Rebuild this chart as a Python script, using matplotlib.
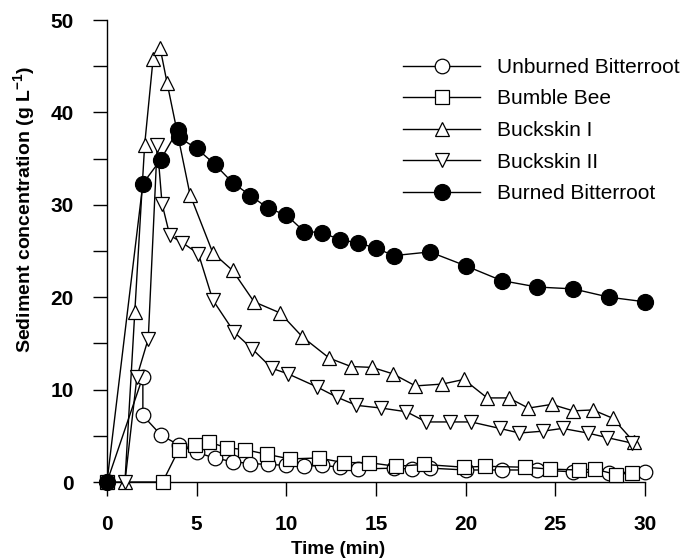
import matplotlib
matplotlib.use("Agg")
import matplotlib.pyplot as plt
from matplotlib.ticker import MultipleLocator

plt.rcParams['font.family'] = ['Liberation Sans', 'DejaVu Sans']
plt.rcParams['mathtext.fontset'] = 'custom'
plt.rcParams['mathtext.rm'] = 'Liberation Sans'
plt.rcParams['mathtext.bf'] = 'Liberation Sans:bold'

# ---- data ----
unburned_t = [0, 2.0, 2.0, 3.0, 4.0, 5.0, 6.0, 7.0, 8.0, 9.0, 10.0, 11.0, 12.0, 13.0, 14.0,
              16.0, 17.0, 18.0, 20.0, 22.0, 24.0, 26.0, 28.0, 30.0]
unburned_v = [0, 11.4, 7.2, 5.1, 4.0, 3.2, 2.6, 2.2, 2.0, 1.9, 1.8, 1.7, 1.8, 1.6, 1.4,
              1.5, 1.4, 1.5, 1.3, 1.3, 1.3, 1.1, 1.0, 1.1]

bumble_t = [0, 3.1, 4.0, 4.9, 5.7, 6.7, 7.7, 8.9, 10.2, 11.8, 13.2, 14.6, 16.1, 17.7,
            19.9, 21.1, 23.3, 24.7, 26.3, 27.2, 28.4, 29.3]
bumble_v = [0, 0, 3.5, 4.0, 4.3, 3.7, 3.5, 3.0, 2.5, 2.6, 2.1, 2.1, 1.7, 1.9,
            1.6, 1.7, 1.6, 1.4, 1.3, 1.4, 0.8, 1.0]

buck1_t = [1.0, 1.55, 2.1, 2.57, 2.96, 3.35, 4.63, 5.9, 7.0, 8.2, 9.65, 10.9, 12.4, 13.6,
           14.8, 15.95, 17.2, 18.7, 19.9, 21.2, 22.4, 23.5, 24.8, 26.0, 27.1, 28.2, 29.4]
buck1_v = [0, 18.4, 36.5, 45.8, 47.0, 43.2, 31.1, 24.8, 22.9, 19.5, 18.3, 15.7, 13.4, 12.5,
           12.4, 11.7, 10.4, 10.6, 11.1, 9.1, 9.1, 8.0, 8.4, 7.7, 7.8, 6.9, 4.3]

buck2_t = [1.0, 1.67, 2.3, 2.8, 3.07, 3.5, 4.2, 5.1, 5.9, 7.1, 8.1, 9.2, 10.1, 11.7, 12.8,
           13.9, 15.3, 16.7, 17.8, 19.1, 20.3, 21.9, 23.0, 24.3, 25.4, 26.8, 27.9, 29.3]
buck2_v = [0, 11.4, 15.5, 36.5, 30.1, 26.7, 25.9, 24.7, 19.7, 16.2, 14.4, 12.3, 11.7, 10.3, 9.2,
           8.3, 8.0, 7.6, 6.5, 6.5, 6.5, 5.8, 5.3, 5.5, 5.8, 5.3, 4.8, 4.2]

burned_t = [0, 2.0, 3.0, 3.95, 4.0, 5.0, 6.0, 7.0, 8.0, 9.0, 10.0, 11.0, 12.0, 13.0, 14.0,
            15.0, 16.0, 18.0, 20.0, 22.0, 24.0, 26.0, 28.0, 30.0]
burned_v = [0, 32.3, 34.9, 38.1, 37.3, 36.1, 34.4, 32.4, 31.0, 29.6, 28.9, 27.1, 27.0, 26.2, 25.9,
            25.3, 24.5, 24.9, 23.4, 21.8, 21.1, 20.9, 20.0, 19.5]

labels = ['Unburned Bitterroot', 'Bumble Bee', 'Buckskin I', 'Buckskin II', 'Burned Bitterroot']
x_ticks = [0, 5, 10, 15, 20, 25, 30]
y_ticks = [0, 10, 20, 30, 40, 50]

fig = plt.figure(figsize=(6.83, 5.6), dpi=100)
ax = fig.add_axes([107/683, 1 - 482/560, (645 - 107)/683, (482 - 20)/560])

lw = 1.0
common = dict(color='black', lw=lw, clip_on=False, markeredgecolor='black', markeredgewidth=0.9)
ax.plot(unburned_t, unburned_v, marker='o', ms=10.5, mfc='white', label=labels[0], zorder=3, **common)
ax.plot(bumble_t, bumble_v, marker='s', ms=9.5, mfc='white', label=labels[1], zorder=3, **common)
ax.plot(buck1_t, buck1_v, marker='^', ms=9.5, mfc='white', label=labels[2], zorder=4, **common)
ax.plot(buck2_t, buck2_v, marker='v', ms=9.5, mfc='white', label=labels[3], zorder=4, **common)
ax.plot(burned_t, burned_v, marker='o', ms=11.5, mfc='black', label=labels[4], zorder=5, **common)

ax.set_xlim(0, 30)
ax.set_ylim(0, 50)
ax.set_xticks(x_ticks)
ax.set_yticks(y_ticks)
ax.yaxis.set_minor_locator(MultipleLocator(5))
for s in ['top', 'right']:
    ax.spines[s].set_visible(False)
for s in ['left', 'bottom']:
    ax.spines[s].set_linewidth(1.0)
ax.tick_params(axis='both', which='both', direction='out', length=10, width=1.0, pad=14)
ax.tick_params(axis='both', which='major', labelsize=15)
for lab in ax.get_xticklabels() + ax.get_yticklabels():
    lab.set_fontweight('bold')

ax.set_xlabel('Time (min)', fontsize=13.5, fontweight='bold')
ax.xaxis.set_label_coords(0.43, -0.127)
ax.set_ylabel(r'Sediment concentration (g L$^{\mathbf{-1}}$)', fontsize=14, fontweight='bold')
ax.yaxis.set_label_coords(-0.128, 0.589)

ax.legend(loc='upper left', bbox_to_anchor=(403/683, 1 - 58/560), bbox_transform=fig.transFigure,
          frameon=False, fontsize=15, handlelength=3.7, handletextpad=0.8, labelspacing=0.6,
          borderpad=0, borderaxespad=0)

fig.savefig('out.png', dpi=100)
